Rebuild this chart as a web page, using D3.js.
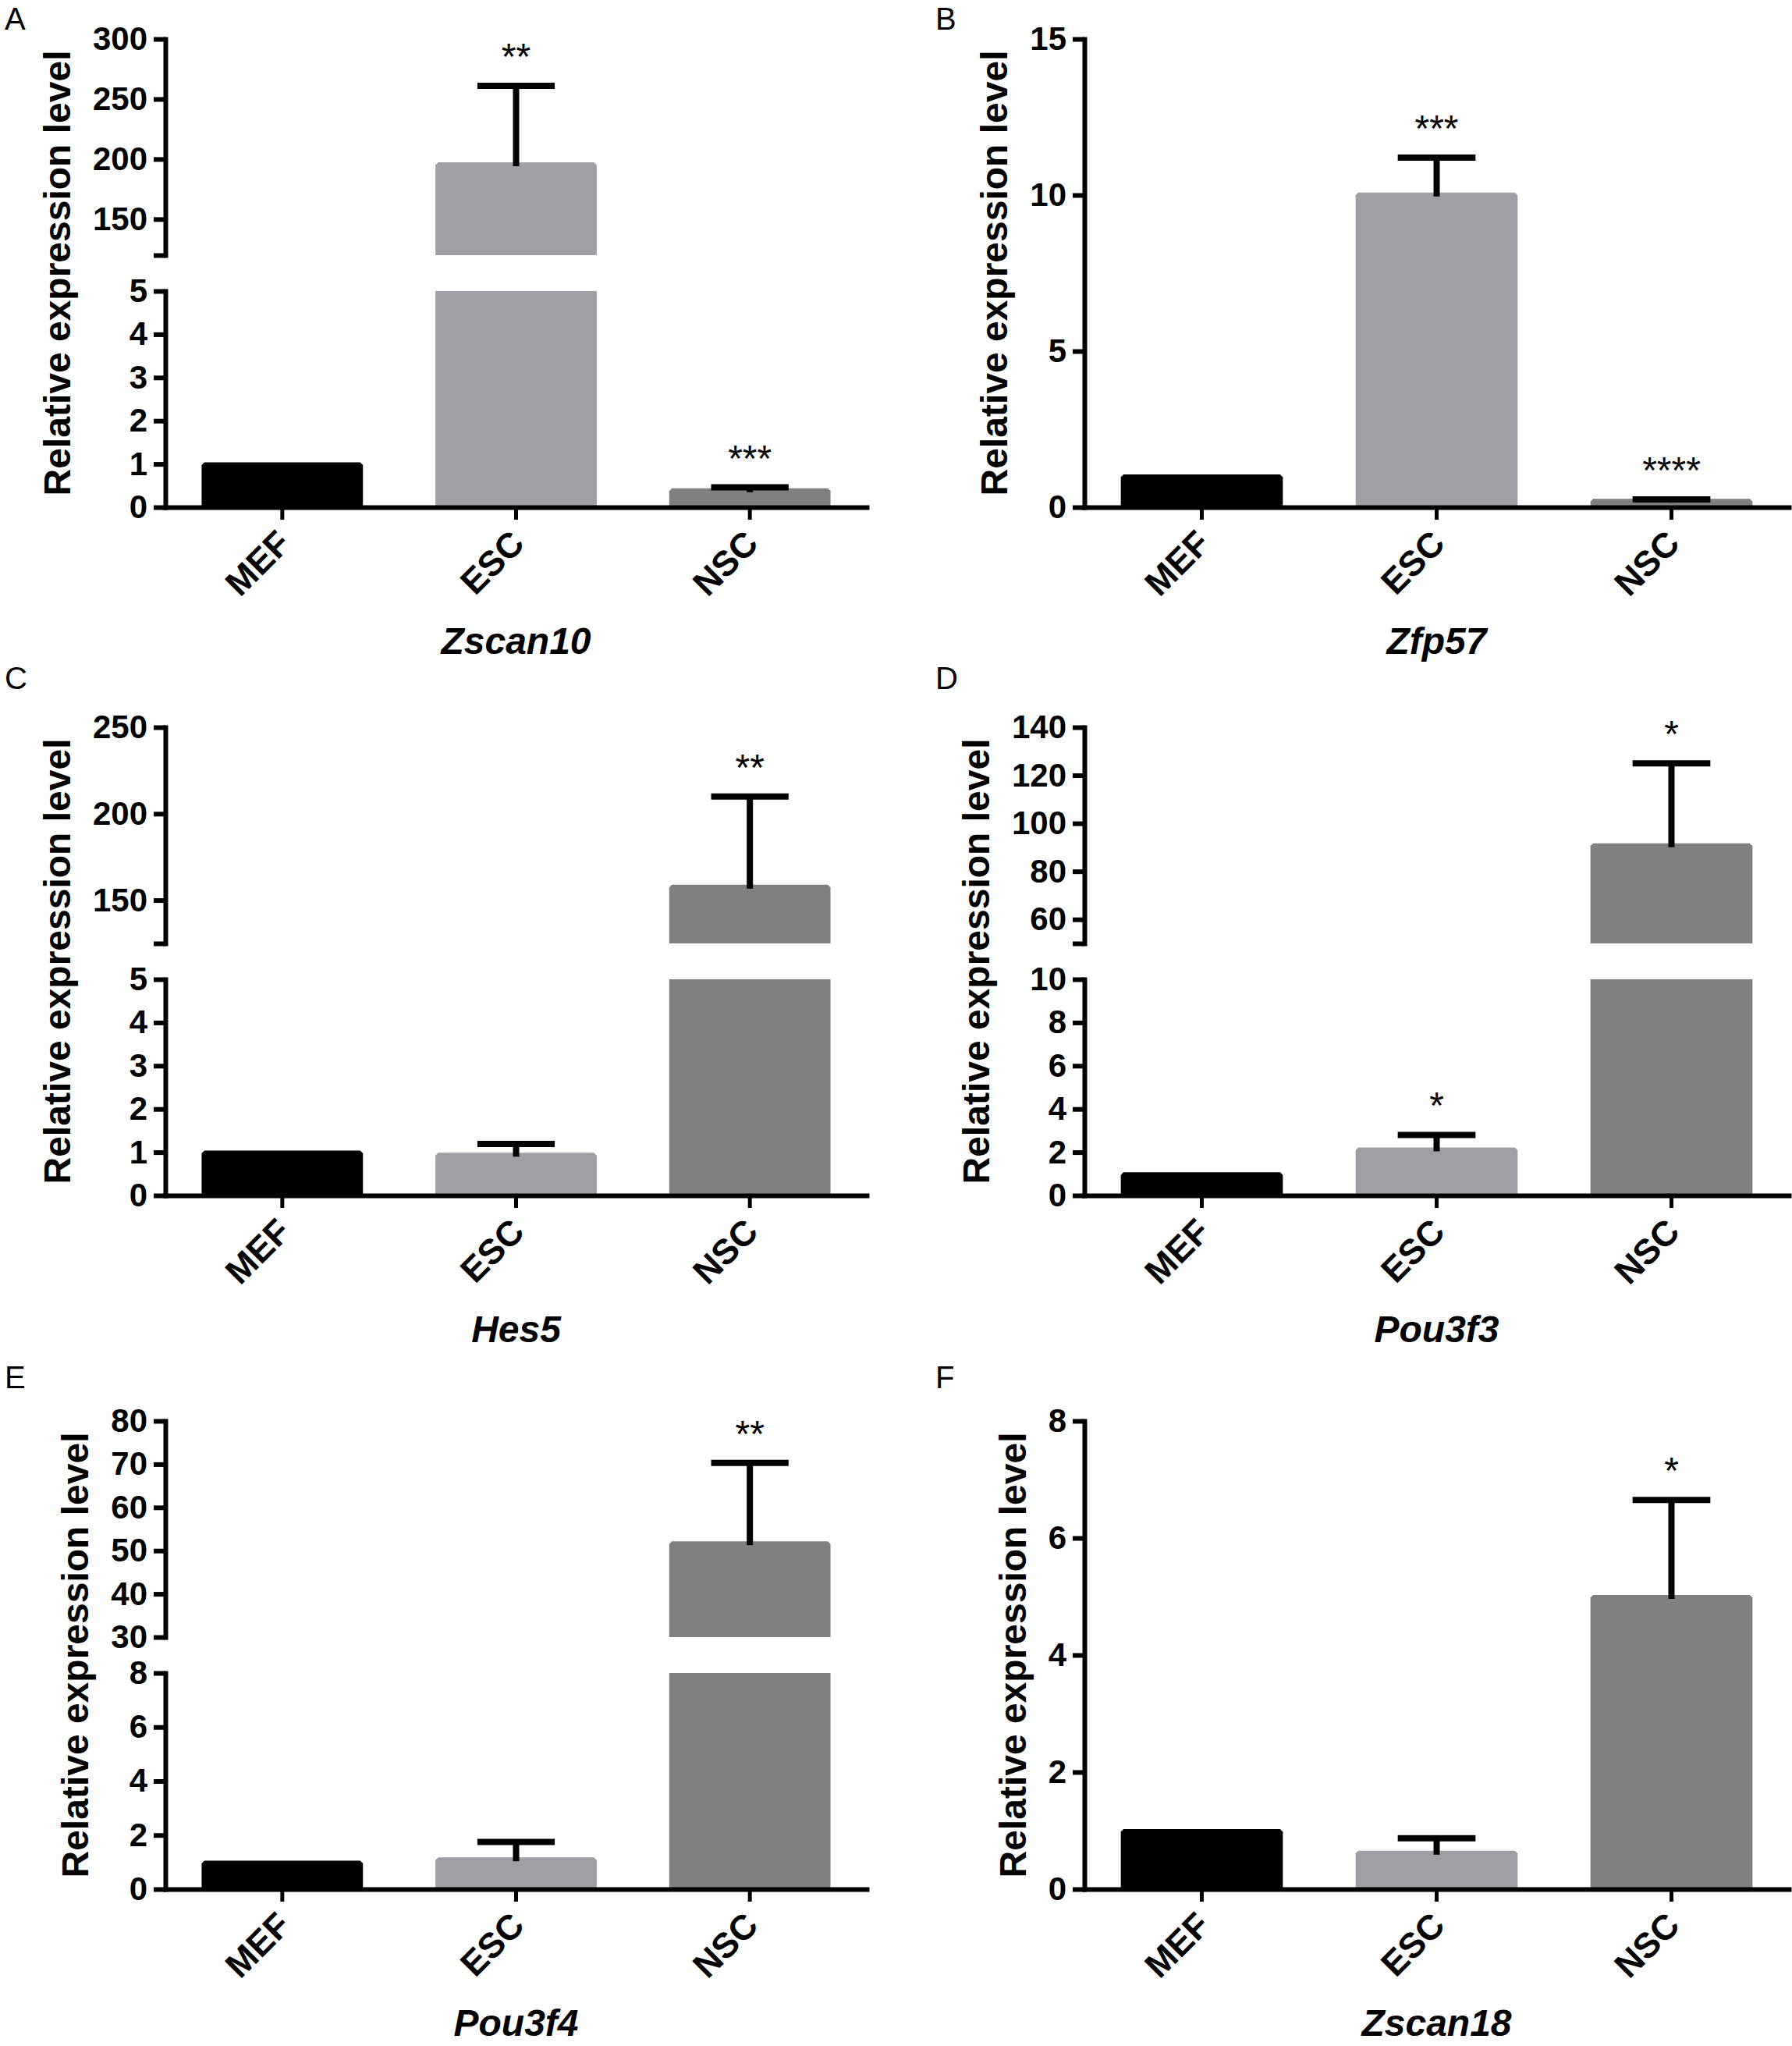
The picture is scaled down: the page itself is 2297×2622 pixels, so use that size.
<!DOCTYPE html>
<html>
<head>
<meta charset="utf-8">
<script src="https://cdn.jsdelivr.net/npm/d3@7"></script>
<style>
  html, body { margin: 0; padding: 0; background: #ffffff; }
  svg { display: block; }
</style>
</head>
<body>
<script>
// ---------------- DATA ----------------
const categories = ["MEF", "ESC", "NSC"];
const panelLetters = ["A", "B", "C", "D", "E", "F"];
const geneNames = ["Zscan10", "Zfp57", "Hes5", "Pou3f3", "Pou3f4", "Zscan18"];

// Zscan10 (A) - broken axis
const zscan10Mean = [1.0, 196, 0.40];
const zscan10Err = [0, 65, 0.06];
const zscan10Stars = ["", "**", "***"];
const zscan10LowTicks = [0, 1, 2, 3, 4, 5];
const zscan10LowLabels = ["0", "1", "2", "3", "4", "5"];
const zscan10HighTicks = [120, 150, 200, 250, 300];
const zscan10HighLabels = ["", "150", "200", "250", "300"];

// Zfp57 (B) - single axis
const zfp57Mean = [1.0, 10.03, 0.22];
const zfp57Err = [0, 1.17, 0.03];
const zfp57Stars = ["", "***", "****"];
const zfp57Ticks = [0, 5, 10, 15];
const zfp57Labels = ["0", "5", "10", "15"];

// Hes5 (C) - broken axis
const hes5Mean = [1.0, 0.95, 158];
const hes5Err = [0, 0.24, 52];
const hes5Stars = ["", "", "**"];
const hes5LowTicks = [0, 1, 2, 3, 4, 5];
const hes5LowLabels = ["0", "1", "2", "3", "4", "5"];
const hes5HighTicks = [125, 150, 200, 250];
const hes5HighLabels = ["", "150", "200", "250"];

// Pou3f3 (D) - broken axis
const pou3f3Mean = [1.0, 2.15, 91];
const pou3f3Err = [0, 0.65, 34];
const pou3f3Stars = ["", "*", "*"];
const pou3f3LowTicks = [0, 2, 4, 6, 8, 10];
const pou3f3LowLabels = ["0", "2", "4", "6", "8", "10"];
const pou3f3HighTicks = [50, 60, 80, 100, 120, 140];
const pou3f3HighLabels = ["", "60", "80", "100", "120", "140"];

// Pou3f4 (E) - broken axis
const pou3f4Mean = [1.0, 1.12, 51.8];
const pou3f4Err = [0, 0.63, 18.5];
const pou3f4Stars = ["", "", "**"];
const pou3f4LowTicks = [0, 2, 4, 6, 8];
const pou3f4LowLabels = ["0", "2", "4", "6", "8"];
const pou3f4HighTicks = [30, 40, 50, 60, 70, 80];
const pou3f4HighLabels = ["30", "40", "50", "60", "70", "80"];

// Zscan18 (F) - single axis
const zscan18Mean = [1.0, 0.63, 5.0];
const zscan18Err = [0, 0.24, 1.65];
const zscan18Stars = ["", "", "*"];
const zscan18Ticks = [0, 2, 4, 6, 8];
const zscan18Labels = ["0", "2", "4", "6", "8"];

// ---------------- STYLE / LAYOUT ----------------
const W = 2297, H = 2622;
const barColors = ["#000000", "#a09fa4", "#808080"];
const FONT = "'Liberation Sans', Arial, Helvetica, sans-serif";
const colAxisX = [212, 1390];
const colEndX = [1111, 2293];
const rowTop = [50, 932, 1821];
const rowBottom = [650, 1532, 2421];
const letterY = [38, 883, 1779];
const letterX = [6, 1199];
const segLen = 277;

const panels = [
  { mean: zscan10Mean, err: zscan10Err, stars: zscan10Stars,
    low: { ticks: zscan10LowTicks, labels: zscan10LowLabels },
    high: { ticks: zscan10HighTicks, labels: zscan10HighLabels } },
  { mean: zfp57Mean, err: zfp57Err, stars: zfp57Stars,
    low: { ticks: zfp57Ticks, labels: zfp57Labels }, high: null },
  { mean: hes5Mean, err: hes5Err, stars: hes5Stars,
    low: { ticks: hes5LowTicks, labels: hes5LowLabels },
    high: { ticks: hes5HighTicks, labels: hes5HighLabels } },
  { mean: pou3f3Mean, err: pou3f3Err, stars: pou3f3Stars,
    low: { ticks: pou3f3LowTicks, labels: pou3f3LowLabels },
    high: { ticks: pou3f3HighTicks, labels: pou3f3HighLabels } },
  { mean: pou3f4Mean, err: pou3f4Err, stars: pou3f4Stars,
    low: { ticks: pou3f4LowTicks, labels: pou3f4LowLabels },
    high: { ticks: pou3f4HighTicks, labels: pou3f4HighLabels } },
  { mean: zscan18Mean, err: zscan18Err, stars: zscan18Stars,
    low: { ticks: zscan18Ticks, labels: zscan18Labels }, high: null }
];

const svg = d3.select("body").append("svg")
  .attr("width", W).attr("height", H)
  .attr("xmlns", "http://www.w3.org/2000/svg");
svg.append("rect").attr("width", W).attr("height", H).attr("fill", "#ffffff");

panels.forEach((p, idx) => {
  const col = idx % 2, row = Math.floor(idx / 2);
  const ax = colAxisX[col], xe = colEndX[col];
  const top = rowTop[row], bottom = rowBottom[row];
  const g = svg.append("g");

  const x = d3.scaleBand().domain(categories).range([ax, xe])
    .paddingInner(0.31).paddingOuter(0.155);
  const bw = x.bandwidth();

  const lowMin = d3.min(p.low.ticks), lowMax = d3.max(p.low.ticks);
  let lowScale, highScale = null, highMin = null, highMax = null;
  if (p.high) {
    highMin = d3.min(p.high.ticks); highMax = d3.max(p.high.ticks);
    lowScale = d3.scaleLinear().domain([lowMin, lowMax]).range([bottom, bottom - segLen]);
    highScale = d3.scaleLinear().domain([highMin, highMax]).range([top + segLen, top]);
  } else {
    lowScale = d3.scaleLinear().domain([lowMin, lowMax]).range([bottom, top]);
  }
  const yOf = v => (!p.high || v <= lowMax) ? lowScale(v) : highScale(v);

  // bars
  const chamfer = 3.5, border = 2;
  const topPiece = (x0, x1, yTop, yBot) =>
    `M${x0},${yBot}L${x0},${yTop + chamfer}L${x0 + chamfer},${yTop}L${x1 - chamfer},${yTop}L${x1},${yTop + chamfer}L${x1},${yBot}Z`;
  categories.forEach((c, i) => {
    const v = p.mean[i];
    const x0 = x(c), x1 = x(c) + bw;
    if (p.high && v > lowMax) {
      g.append("rect").attr("x", x0).attr("width", bw)
        .attr("y", lowScale(lowMax)).attr("height", bottom - lowScale(lowMax))
        .attr("fill", barColors[i]);
      g.append("path").attr("d", topPiece(x0, x1, highScale(v) - border, highScale(highMin)))
        .attr("fill", barColors[i]);
    } else {
      g.append("path").attr("d", topPiece(x0, x1, lowScale(v) - border, bottom))
        .attr("fill", barColors[i]);
    }
  });

  // y axes
  const styleAxis = (sel, fontSize) => {
    sel.select(".domain").attr("stroke", "#000").attr("stroke-width", 6).attr("stroke-linecap", "square");
    sel.selectAll(".tick line").attr("stroke", "#000").attr("stroke-width", 6);
    sel.selectAll(".tick text").attr("fill", "#000")
      .style("font-family", FONT).style("font-size", fontSize + "px").style("font-weight", "bold");
  };
  const yAxes = [];
  const lowAxis = g.append("g").attr("transform", `translate(${ax},0)`)
    .call(d3.axisLeft(lowScale).tickValues(p.low.ticks)
      .tickFormat((d, i) => p.low.labels[i]).tickSize(15).tickSizeOuter(0).tickPadding(8));
  styleAxis(lowAxis, 42); yAxes.push(lowAxis);
  if (p.high) {
    const highAxis = g.append("g").attr("transform", `translate(${ax},0)`)
      .call(d3.axisLeft(highScale).tickValues(p.high.ticks)
        .tickFormat((d, i) => p.high.labels[i]).tickSize(15).tickSizeOuter(0).tickPadding(8));
    styleAxis(highAxis, 42); yAxes.push(highAxis);
  }

  // x axis
  const xAxis = g.append("g").attr("transform", `translate(0,${bottom})`)
    .call(d3.axisBottom(x).tickSize(16).tickSizeOuter(0));
  xAxis.select(".domain").attr("stroke", "#000").attr("stroke-width", 6).attr("stroke-linecap", "square");
  xAxis.selectAll(".tick line").attr("stroke", "#000").attr("stroke-width", 5);
  xAxis.selectAll(".tick text")
    .attr("y", null).attr("dy", null)
    .attr("text-anchor", "end")
    .attr("transform", "translate(13,49) rotate(-45)")
    .attr("fill", "#000")
    .style("font-family", FONT).style("font-size", "45px").style("font-weight", "bold");

  // error bars
  categories.forEach((c, i) => {
    const v = p.mean[i], e = p.err[i];
    const cx = x(c) + bw / 2;
    if (e > 0) {
      const yT = yOf(v + e);
      g.append("line").attr("x1", cx).attr("x2", cx).attr("y1", yOf(v) + 3).attr("y2", yT)
        .attr("stroke", "#000").attr("stroke-width", 8);
      g.append("line").attr("x1", cx - bw * 0.24).attr("x2", cx + bw * 0.24).attr("y1", yT).attr("y2", yT)
        .attr("stroke", "#000").attr("stroke-width", 8);
    }
    if (p.stars[i]) {
      const yT = yOf(v + e);
      g.append("text").attr("x", cx).attr("y", yT - 21)
        .attr("text-anchor", "middle").attr("fill", "#000")
        .style("font-family", FONT).style("font-size", "48px")
        .text(p.stars[i]);
    }
  });

  // y label, placed relative to widest tick label
  let minX = Infinity;
  yAxes.forEach(a => a.selectAll(".tick text").each(function () {
    if (this.textContent) {
      const r = this.getBoundingClientRect();
      if (r.width > 0) minX = Math.min(minX, r.left);
    }
  }));
  const labX = minX - 29;
  g.append("text").attr("transform", `translate(${labX},${(top + bottom) / 2}) rotate(-90)`)
    .attr("text-anchor", "middle").attr("fill", "#000")
    .style("font-family", FONT).style("font-size", "48px").style("font-weight", "bold")
    .text("Relative expression level");

  // gene title
  g.append("text").attr("x", x("ESC") + bw / 2).attr("y", bottom + 188)
    .attr("text-anchor", "middle").attr("fill", "#000")
    .style("font-family", FONT).style("font-size", "48px")
    .style("font-weight", "bold").style("font-style", "italic")
    .text(geneNames[idx]);

  // panel letter
  g.append("text").attr("x", letterX[col]).attr("y", letterY[row])
    .attr("fill", "#000")
    .style("font-family", FONT).style("font-size", "40px")
    .text(panelLetters[idx]);
});
</script>
</body>
</html>
